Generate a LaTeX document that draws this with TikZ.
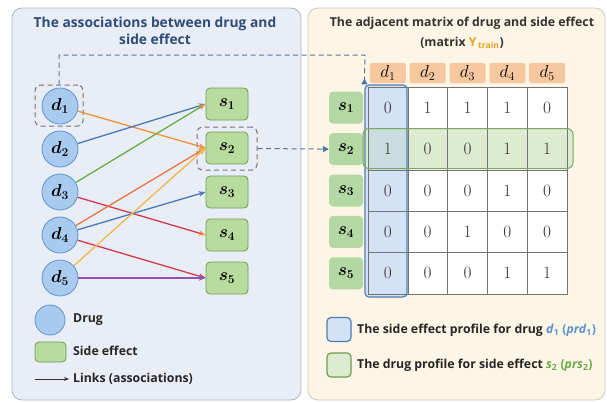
\documentclass[tikz,border=0pt]{standalone}
\usepackage{amsmath}
\usepackage{bm}
\usepackage{fontspec}
\setmainfont{Open Sans}
\usetikzlibrary{arrows.meta,positioning}

\definecolor{leftbg}{HTML}{E9EEF6}
\definecolor{leftbd}{HTML}{A9B5C6}
\definecolor{rightbg}{HTML}{FDF5E6}
\definecolor{rightbd}{HTML}{CFC7B6}
\definecolor{titleblue}{HTML}{2F4B7A}
\definecolor{drugfill}{HTML}{A9CBF0}
\definecolor{drugline}{HTML}{5E93D2}
\definecolor{sidefill}{HTML}{B8DC9E}
\definecolor{sideline}{HTML}{6F9C52}
\definecolor{hdrfill}{HTML}{F7C7A0}
\definecolor{rowfill}{HTML}{B3D8A3}
\definecolor{colfill}{HTML}{D3E2F4}
\definecolor{rowhlfill}{HTML}{DDEBD0}
\definecolor{crossfill}{HTML}{C9DCDF}
\definecolor{cOrange}{HTML}{F0913A}
\definecolor{cYellow}{HTML}{F2B64A}
\definecolor{cBlue}{HTML}{4A78B8}
\definecolor{cGreen}{HTML}{6AAA48}
\definecolor{cRed}{HTML}{D4364C}
\definecolor{cPurple}{HTML}{8E52B2}
\definecolor{guidecol}{HTML}{5B7398}
\definecolor{trainor}{HTML}{E2A52A}

\begin{document}
\begin{tikzpicture}[x=1pt,y=-1pt,
	drug/.style={circle,draw=drugline,fill=drugfill,line width=0.8pt,minimum size=36pt,inner sep=0pt,font=\fontsize{17}{17}\selectfont},
	side/.style={rectangle,rounded corners=4pt,draw=sideline,fill=sidefill,line width=0.8pt,minimum width=42pt,minimum height=32pt,inner sep=0pt,font=\fontsize{17}{17}\selectfont},
	hdr/.style={rectangle,rounded corners=2pt,fill=hdrfill,minimum width=36pt,minimum height=20pt,inner sep=0pt,font=\fontsize{17}{17}\selectfont},
	rowlbl/.style={rectangle,rounded corners=4pt,fill=rowfill,minimum width=34pt,minimum height=32pt,inner sep=0pt,font=\fontsize{17}{17}\selectfont},
	cell/.style={rectangle,draw=black!55,line width=0.6pt,minimum width=39.8pt,minimum height=41.4pt,inner sep=0pt,font=\fontsize{17}{17}\selectfont,text=black!80},
	link/.style={line width=1.3pt,-{Stealth[length=7pt,width=5.5pt]}},
	tipcol/.style={-{Stealth[length=7pt,width=5.5pt,color=#1]}},
	guide/.style={guidecol,line width=1pt,dash pattern=on 5pt off 3.5pt},
	dashbox/.style={rectangle,rounded corners=5pt,draw=black!55,line width=1pt,dash pattern=on 5pt off 3.5pt},
	lbl/.style={font=\fontsize{12.3}{14}\selectfont\bfseries,text=black!85,anchor=west,inner sep=0pt}]
\useasboundingbox (0,0) rectangle (607,402);
%panels
\draw[leftbd,fill=leftbg,rounded corners=10pt,line width=0.8pt] (12,8) rectangle (301,400);
\draw[rightbd,fill=rightbg,rounded corners=10pt,line width=0.8pt] (308,8) rectangle (605,400);
\node[font=\fontsize{13.8}{17.5}\selectfont\bfseries,text=titleblue,align=center] (ltitle) at (155,31) {The associations between drug and\\side effect};
\node[font=\fontsize{12.3}{20}\selectfont\bfseries,text=black!80,align=center] (rtitle) at (462,33) {The adjacent matrix of drug and side effect\\(matrix {\color{trainor}Y\textsubscript{\,train}})};

%drugs and side effects
\foreach \i/\y in {1/106,2/149,3/192,4/235,5/278}{
	\node[drug] (d\i) at (60,\y) {$\bm{d_{\i}}$};
}
\foreach \i/\y in {1/104,2/148,3/192,4/235,5/278}{
	\node[side] (s\i) at (227,\y) {$\bm{s_{\i}}$};
}
\node[dashbox,minimum width=48pt,minimum height=41pt] (d1box) at (59,105.5) {};
\node[dashbox,minimum width=60pt,minimum height=43pt] (s2box) at (227,148.5) {};

%links
\draw[link,cOrange] (d1) -- (s2.west);
\draw[link,cBlue] (d2) -- (s1.west);
\draw[link,cGreen,tipcol=cOrange] (d3) -- (s1.west);
\draw[link,cRed,tipcol=cOrange] (d3) -- (s4.west);
\draw[link,cOrange!70!cRed,tipcol=cOrange] (d4) -- (s2.west);
\draw[link,cBlue] (d4) -- (s3.west);
\draw[link,cRed] (d4) -- (s5.west);
\draw[link,cYellow,tipcol=cYellow] (d5) -- (s2.west);
\draw[link,cPurple] (d5) -- (s5.west);

%matrix: fills first, then the grid, then the outlines
\fill[white] (368,87) rectangle (567.1,294);
\fill[colfill,rounded corners=4pt] (365,85) rectangle (407,297);
\fill[rowhlfill,rounded corners=6pt] (363,128.5) rectangle (573,168.5);
\fill[crossfill] (368,128.5) rectangle (407,168.5);
\foreach \c in {1,...,5}{
	\node[hdr] (h\c) at ({348.1+39.8*\c},73) {$d_{\c}$};
}
\foreach \r/\vals in {1/{0,1,1,1,0},2/{1,0,0,1,1},3/{0,0,0,1,0},4/{0,0,1,0,0},5/{0,0,0,1,1}}{
	\node[rowlbl] (r\r) at (346,{66.3+41.4*\r}) {$\bm{s_{\r}}$};
	\foreach \v [count=\c] in \vals{
		\node[cell] (m\r\c) at ({348.1+39.8*\c},{66.3+41.4*\r}) {$\v$};
	}
}
\node[rectangle,rounded corners=4pt,draw=drugline!85!black,line width=1.2pt,minimum width=42pt,minimum height=212pt] (colhl) at (386,191) {};
\node[rectangle,rounded corners=6pt,draw=sideline!90,line width=1pt,minimum width=210pt,minimum height=40pt] (rowhl) at (468,148.5) {};

%dashed guides
\coordinate (bend) at (365,55);
\draw[guide,-{Triangle[reversed,length=6pt,width=6pt,color=drugline!80!black]}] (d1box.north) |- (bend) -- (colhl.north west);
\draw[guide,-{Triangle[length=6pt,width=6pt,color=drugline!80!black]}] (s2box.east) -- (r2.west);

%legend left
\node[drug,minimum size=30pt] (ldrug) at (50,320) {};
\node[lbl] (tdrug) at (73,320) {Drug};
\node[side,minimum width=31pt,minimum height=20pt] (lside) at (50.5,352) {};
\node[lbl] (tside) at (73,351) {Side effect};
\coordinate (la) at (35,379);
\coordinate (lb) at (69,379);
\node[lbl] (tlink) at (73,379) {Links (associations)};
\draw[line width=1pt,black!80,-{Stealth[length=5pt,width=4pt]}] (la) -- (lb);

%legend right
\node[rectangle,rounded corners=4pt,draw=drugline!85!black,fill=colfill,line width=1.2pt,minimum width=24pt,minimum height=24pt] (lcol) at (339,329.5) {};
\node[lbl] (tcol) at (357,330) {The side effect profile for drug {\color{drugline}\textit{d}\textsubscript{1} (\textit{prd}\textsubscript{1})}};
\node[rectangle,rounded corners=4pt,draw=sideline,fill=rowhlfill,line width=1.2pt,minimum width=24pt,minimum height=24pt] (lrow) at (339,365) {};
\node[lbl] (trow) at (357,365) {The drug profile for side effect {\color{cGreen}\textit{s}\textsubscript{2} (\textit{prs}\textsubscript{2})}};
\end{tikzpicture}
\end{document}
